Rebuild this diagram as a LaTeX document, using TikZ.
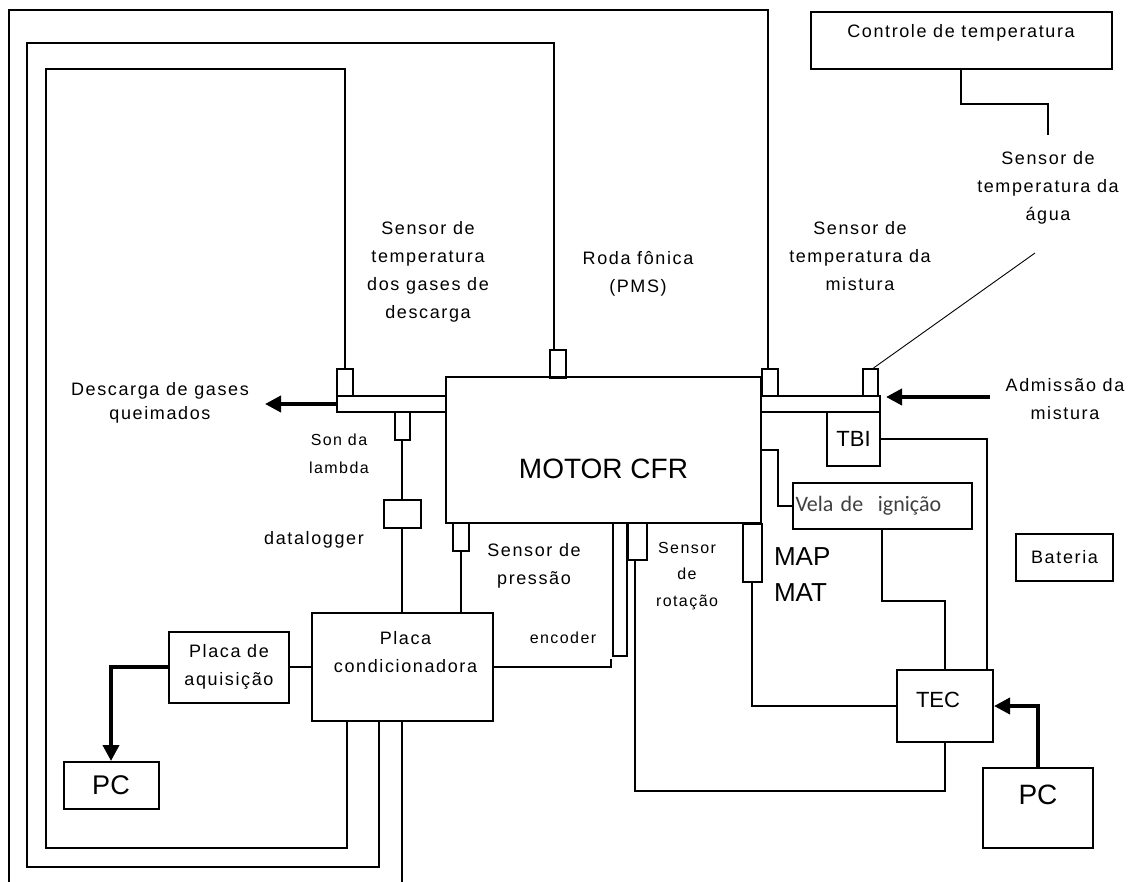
\documentclass[tikz,border=0pt]{standalone}
\usepackage{fontspec}
\setmainfont{Liberation Sans}
\newfontfamily\spacedfont[LetterSpace=9]{Liberation Sans}
\newfontfamily\velafont{Carlito}
\usetikzlibrary{arrows.meta}

\begin{document}
\begin{tikzpicture}[x=1pt, y=-1pt, line width=2pt,
    blk/.style={draw, line width=2pt, inner sep=0pt},
    lbl/.style={font=\spacedfont\fontsize{18}{28}\selectfont, align=center, inner sep=0pt},
    smalllbl/.style={font=\spacedfont\fontsize{16}{28}\selectfont, align=center, inner sep=0pt},
    big/.style={font=\fontsize{#1}{#1}\selectfont, inner sep=0pt},
    fat/.style={line width=3.8pt, -{Triangle[length=16pt,width=16pt]}}]

        \fill[white] (0,0) rectangle (1131,882);
        \useasboundingbox (0,0) rectangle (1131,882);

        % ==========================================
        % 1. Motor e tubos de escape / admissao
        % ==========================================
        \node[blk, minimum width=315, minimum height=146,
              label={[big=28, yshift=-19pt]center:MOTOR CFR}] (motor) at (603.5,450) {};
        \node[blk, minimum width=109, minimum height=16] (escape) at (391.5,404) {};
        \node[blk, minimum width=119, minimum height=16] (admissao) at (820.5,404) {};

        % ==========================================
        % 2. Sensores
        % ==========================================
        \node[blk, minimum width=16, minimum height=27] (sgases) at (345,382.5) {};
        \node[blk, minimum width=16, minimum height=28] (sroda) at (558,364) {};
        \node[blk, minimum width=16, minimum height=27] (smistura) at (770,382.5) {};
        \node[blk, minimum width=15, minimum height=27] (sagua) at (870.5,382.5) {};
        \node[blk, minimum width=15, minimum height=28] (slambda) at (402,426) {};
        \node[blk, minimum width=37, minimum height=28] (datalogger) at (402,514) {};
        \node[blk, minimum width=16, minimum height=28] (spressao) at (461,537) {};
        \node[blk, minimum width=14, minimum height=133] (encoder) at (620,589.5) {};
        \node[blk, minimum width=19, minimum height=37] (srotacao) at (637.5,541.5) {};
        \node[blk, minimum width=19, minimum height=58] (mapmat) at (752,553) {};

        % ==========================================
        % 3. Blocos
        % ==========================================
        \node[blk, big=22, minimum width=53, minimum height=54] (tbi) at (853.5,439) {TBI};
        \node[blk, font=\velafont\fontsize{22}{22}\selectfont, text=black!75, inner xsep=3pt,
              text width=173pt, align=left, minimum height=46] (vela) at (882,506) {Vela de\ \ ignição};
        \node[blk, minimum width=96, minimum height=72,
              label={[big=22, xshift=-7pt, yshift=6pt]center:TEC}] (tec) at (945,706) {};
        \node[blk, minimum width=110, minimum height=80,
              label={[big=28, yshift=13pt]center:PC}] (pcdir) at (1038,808) {};
        \node[blk, lbl, minimum width=97, minimum height=47] (bateria) at (1064.5,557.5) {Bateria};
        \node[blk, minimum width=301, minimum height=57,
              label={[lbl, yshift=7.5pt]center:Controle de temperatura}] (controle) at (961,40.5) {};
        \node[blk, minimum width=181, minimum height=108,
              label={[lbl, xshift=3.5pt, yshift=14.5pt]center:Placa\\condicionadora}] (condic) at (402,667) {};
        \node[blk, lbl, minimum width=120, minimum height=71] (aquisicao) at (229,667) {Placa de\\aquisição};
        \node[blk, big=27, minimum width=95, minimum height=47] (pcesq) at (111,785.5) {PC};

        % ==========================================
        % 4. Rotulos
        % ==========================================
        \node[lbl] (tgases) at (428,271.5) {Sensor de\\temperatura\\dos gases de\\descarga};
        \node[lbl] (troda) at (638,273.5) {Roda fônica\\(PMS)};
        \node[lbl] (tmistura) at (860,256) {Sensor de\\temperatura da\\mistura};
        \node[lbl] (tagua) at (1048,188) {Sensor de\\temperatura da\\água};
        \node[lbl] (tadm) at (1065,399.5) {Admissão da\\mistura};
        \node[lbl, font=\spacedfont\fontsize{18}{24}\selectfont] (tdesc) at (160,403) {Descarga de gases\\queimados};
        \node[smalllbl] (tlambda) at (339,453.5) {Son da\\lambda};
        \node[lbl] (tdatalogger) at (314,540) {datalogger};
        \node[lbl] (tpressao) at (534,566) {Sensor de\\pressão};
        \node[smalllbl] (tencoder) at (563,638) {encoder};
        \node[smalllbl, font=\spacedfont\fontsize{16}{26.5}\selectfont] (trotacao) at (687,576) {Sensor\\de\\rotação};
        \node[big=26, font=\fontsize{26}{36}\selectfont, align=left, anchor=west] (tmap) at (773,575) {MAP\\MAT};

        % ==========================================
        % 5. Pontos livres
        % ==========================================
        \coordinate (fio1) at (9,10);    \coordinate (fio1b) at (9,882);
        \coordinate (fio2) at (27,43);   \coordinate (fio2b) at (27,867);
        \coordinate (fio3) at (46,69);   \coordinate (fio3b) at (46,848);
        \coordinate (fio4) at (402,882);
        \coordinate (saida) at (265,402);
        \coordinate (entrada) at (990,397);
        \coordinate (fimagua) at (1035,253);
        \coordinate (fimcontrole) at (1048,135);

        % ==========================================
        % 6. Fios
        % ==========================================
        \draw ([xshift=-2pt]smistura.north) |- (fio1) -- (fio1b);
        \draw ([xshift=-4pt]sroda.north) |- (fio2) -- (fio2b) -| ([xshift=-23pt]condic.south);
        \draw (sgases.north) |- (fio3) -- (fio3b) -| ([xshift=-55pt]condic.south);
        \draw (slambda.south) -- (datalogger.north);
        \draw (datalogger.south) -- (condic.north);
        \draw (condic.south) -- (fio4);
        \draw (spressao.south) -- (spressao.south |- condic.north);
        \draw (aquisicao.east) -- (condic.west);
        \draw (condic.east) -| ([xshift=-9pt,yshift=-2pt]encoder.south);
        \draw ([xshift=-2.5pt]srotacao.south) |- ([yshift=-48pt]tec.south) -- (tec.south);
        \draw (mapmat.south) |- (tec.west);
        \draw (vela.south) -- ++(0,71) -| (tec.north);
        \draw (tbi.east) -| ([xshift=42pt]tec.north);
        \draw (motor.east) -- ++(16,0) |- (vela.west);
        \draw[line width=0.9pt] ([xshift=3pt]sagua.north) -- (fimagua);
        \draw (controle.south) -- ++(0,34) -| (fimcontrole);

        % ==========================================
        % 7. Setas grossas
        % ==========================================
        \draw[fat] (aquisicao.west) -| (pcesq.north);
        \draw[fat] (pcdir.north) |- (tec.east);
        \draw[fat] (escape.west) -- (escape.west -| saida);
        \draw[fat, shorten >=5pt] (entrada) -- (entrada -| admissao.east);

    \end{tikzpicture}
\end{document}
